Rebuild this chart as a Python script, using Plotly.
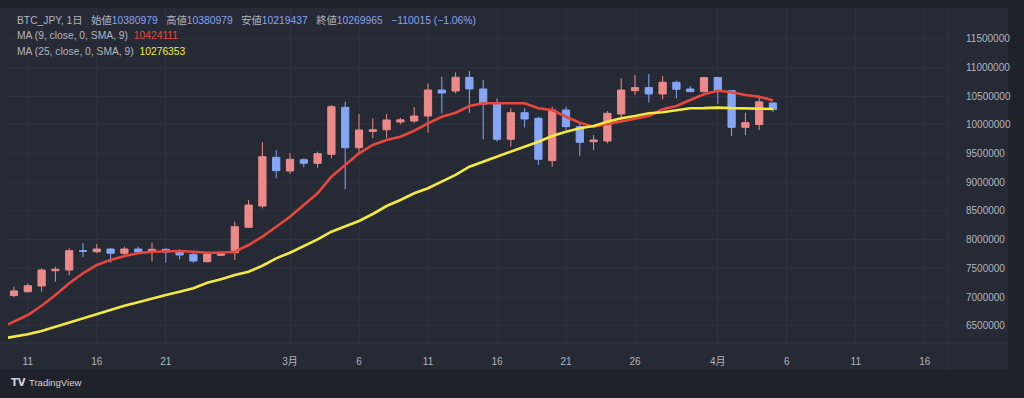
import pandas as pd
import plotly.graph_objects as go

# ---------------- data ----------------
start_date = "2024-02-10"
n_candles = 56
opens = [7025000, 7092000, 7192000, 7458000, 7470000, 7807000, 7789000, 7836000, 7761000, 7836000,
         7789000, 7831000, 7789000, 7744000, 7615000, 7727000, 7772000, 8214000, 8585000, 9434000,
         9195000, 9392000, 9329000, 9486000, 10304000, 9601000, 9884000, 9914000, 10049000, 10066000,
         10153000, 10606000, 10589000, 10827000, 10624000, 10362000, 9747000, 10211000, 10113000, 9375000,
         10258000, 9968000, 9706000, 9718000, 10188000, 10595000, 10648000, 10537000, 10741000, 10624000,
         10578000, 10822000, 10595000, 9956000, 10006000, 10380979]
highs = [7180000, 7239000, 7500000, 7528000, 7848000, 7936000, 7923000, 7848000, 7876000, 7876000,
         7946000, 7848000, 7831000, 7761000, 7779000, 7789000, 8312000, 8690000, 9695000, 9561000,
         9503000, 9416000, 9532000, 10345000, 10403000, 10188000, 10113000, 10188000, 10122000, 10310000,
         10716000, 10838000, 10914000, 10937000, 10780000, 10461000, 10287000, 10287000, 10141000, 10316000,
         10316000, 10055000, 9822000, 10240000, 10810000, 10868000, 10885000, 10850000, 10768000, 10676000,
         10838000, 10838000, 10606000, 10211000, 10511000, 10380979]
lows = [7000000, 7075000, 7092000, 7266000, 7383000, 7692000, 7761000, 7598000, 7692000, 7761000,
        7615000, 7598000, 7657000, 7598000, 7605000, 7720000, 7645000, 8202000, 8545000, 9068000,
        9143000, 9260000, 9254000, 9416000, 8876000, 9503000, 9765000, 9770000, 10006000, 10037000,
        9862000, 10200000, 10549000, 10209000, 9746000, 9706000, 9619000, 9956000, 9300000, 9270000,
        9910000, 9457000, 9561000, 9678000, 10066000, 10519000, 10385000, 10444000, 10462000, 10567000,
        10567000, 10362000, 9805000, 9822000, 9910000, 10219437]
closes = [7105000, 7197000, 7470000, 7483000, 7807000, 7796000, 7836000, 7761000, 7836000, 7784000,
          7831000, 7784000, 7732000, 7627000, 7749000, 7779000, 8225000, 8603000, 9444000, 9200000,
          9399000, 9329000, 9497000, 10315000, 9601000, 9910000, 9913000, 10084000, 10087000, 10153000,
          10606000, 10554000, 10827000, 10624000, 10362000, 9747000, 10211000, 10101000, 9399000, 10258000,
          9968000, 9695000, 9735000, 10200000, 10606000, 10648000, 10537000, 10741000, 10619000, 10578000,
          10822000, 10595000, 9956000, 10037000, 10400000, 10269965]

# moving averages (first point = Feb 9, then one per candle)
ma_start_date = "2024-02-09"
ma9 = [6460000, 6570000, 6686000, 6848000, 7035000, 7239000, 7413000, 7558000, 7645000, 7714000,
       7761000, 7789000, 7801000, 7801000, 7789000, 7772000, 7772000, 7789000, 7906000, 8051000,
       8225000, 8399000, 8603000, 8807000, 9096000, 9300000, 9503000, 9648000, 9735000, 9793000,
       9897000, 10026000, 10141000, 10211000, 10328000, 10375000, 10375000, 10375000, 10375000, 10288000,
       10258000, 10141000, 10037000, 9967000, 10014000, 10072000, 10113000, 10153000, 10270000, 10328000,
       10432000, 10531000, 10594000, 10566000, 10519000, 10490000, 10424111]
ma25 = [6268000, 6308000, 6350000, 6408000, 6483000, 6552000, 6629000, 6704000, 6774000, 6848000,
        6908000, 6977000, 7035000, 7092000, 7152000, 7249000, 7308000, 7383000, 7441000, 7545000,
        7674000, 7772000, 7889000, 8005000, 8138000, 8225000, 8324000, 8446000, 8585000, 8690000,
        8807000, 8894000, 9009000, 9126000, 9270000, 9357000, 9444000, 9531000, 9608000, 9706000,
        9805000, 9880000, 9939000, 9979000, 10054000, 10113000, 10153000, 10200000, 10218000, 10258000,
        10288000, 10290000, 10300000, 10290000, 10285000, 10280000, 10276353]

ytick_vals = [6500000, 7000000, 7500000, 8000000, 8500000, 9000000, 9500000,
              10000000, 10500000, 11000000, 11500000]
xtick_dates = ["2024-02-11", "2024-02-16", "2024-02-21", "2024-03-01", "2024-03-06", "2024-03-11",
               "2024-03-16", "2024-03-21", "2024-03-26", "2024-04-01", "2024-04-06", "2024-04-11",
               "2024-04-16"]
xtick_labels = ["11", "16", "21", "3月", "6", "11", "16", "21", "26", "4月", "6", "11", "16"]

symbol = "BTC_JPY, 1日"
change_text = "−110015 (−1.06%)"
ma9_label = "MA (9, close, 0, SMA, 9)"
ma25_label = "MA (25, close, 0, SMA, 9)"

# ---------------- style ----------------
W, H = 1024, 398
OUTER = "#1f222b"
PANEL = "#262a35"
UP = "#ec8a8a"
DOWN = "#85a6f7"
RED = "#e8473d"
YEL = "#f3e93f"
TXT = "#b2b5be"
GRID = "#2d313c"
FONT = "Liberation Sans, Noto Sans CJK JP, sans-serif"

dates = pd.date_range(start_date, periods=n_candles, freq="D")
ma_dates = pd.date_range(ma_start_date, periods=len(ma9), freq="D")

fig = go.Figure()
fig.add_trace(go.Candlestick(
    x=dates, open=opens, high=highs, low=lows, close=closes,
    increasing=dict(line=dict(color=UP, width=1), fillcolor=UP),
    decreasing=dict(line=dict(color=DOWN, width=1), fillcolor=DOWN),
    whiskerwidth=0, showlegend=False, hoverinfo="skip"))
fig.add_trace(go.Scatter(x=ma_dates, y=ma9, mode="lines",
                         line=dict(color=RED, width=2.6), showlegend=False, hoverinfo="skip"))
fig.add_trace(go.Scatter(x=ma_dates, y=ma25, mode="lines",
                         line=dict(color=YEL, width=2.6), showlegend=False, hoverinfo="skip"))

# plot area geometry (pixels)
L, R, T, B = 8, 948, 8, 343


def px2val(y):
    return 7000000 + (297 - y) * 500000 / 28.7


x0 = pd.Timestamp(start_date) - pd.Timedelta(days=6 / 13.8)
x1 = pd.Timestamp(start_date) + pd.Timedelta(days=(R - 14) / 13.8)

fig.update_layout(
    width=W, height=H,
    margin=dict(l=L, r=W - R, t=T, b=H - B),
    paper_bgcolor=OUTER, plot_bgcolor=PANEL,
    font=dict(family=FONT, size=10, color=TXT),
    boxgap=0.25,
    xaxis=dict(
        range=[x0, x1], rangeslider=dict(visible=False),
        tickvals=xtick_dates, ticktext=xtick_labels,
        showgrid=True, gridcolor=GRID, gridwidth=1, zeroline=False,
        ticks="outside", ticklen=9, tickcolor="rgba(0,0,0,0)",
        tickfont=dict(size=10, color=TXT), showline=False,
    ),
    yaxis=dict(
        side="right", range=[px2val(B), px2val(T)],
        tickvals=ytick_vals, ticktext=[str(v) for v in ytick_vals],
        showgrid=True, gridcolor=GRID, gridwidth=1, zeroline=False,
        ticks="outside", ticklen=15, tickcolor="rgba(0,0,0,0)",
        tickfont=dict(size=10, color=TXT), showline=False,
    ),
)

# panel background and separators
shapes = [
    dict(type="rect", xref="paper", yref="paper", layer="below",
         x0=-L / (R - L), x1=(1008 - L) / (R - L), y0=-(370 - B) / (B - T), y1=1,
         fillcolor=PANEL, line=dict(width=0)),
    dict(type="line", xref="paper", yref="paper", layer="above",
         x0=1, x1=1, y0=-(370 - B) / (B - T), y1=1, line=dict(color="#30343f", width=1)),
    dict(type="line", xref="paper", yref="paper", layer="above",
         x0=-L / (R - L), x1=(1008 - L) / (R - L), y0=0, y1=0, line=dict(color="#30343f", width=1)),
]
fig.update_layout(shapes=shapes)

NB = "\u00a0"
BLUE_TXT = "#87a3f5"


def val(s, c):
    return f'<span style="color:{c}">{s}</span>'


sep = NB * 3
line1 = (f"{symbol}{sep}始値{val(opens[-1], BLUE_TXT)}{sep}高値{val(highs[-1], BLUE_TXT)}"
         f"{sep}安値{val(lows[-1], BLUE_TXT)}{sep}終値{val(closes[-1], BLUE_TXT)}"
         f"{sep}{val(change_text, BLUE_TXT)}")
line2 = f"{ma9_label}{NB}{NB}{val(ma9[-1], RED)}"
line3 = f"{ma25_label}{NB}{NB}{val(ma25[-1], YEL)}"

for i, txt in enumerate([line1, line2, line3]):
    fig.add_annotation(xref="paper", yref="paper", x=(15 - L) / (R - L),
                       y=1 - ((20 + 15.5 * i) - T) / (B - T),
                       text=txt, showarrow=False, xanchor="left", yanchor="middle",
                       font=dict(family=FONT, size=10.3, color=TXT))

# TradingView logo
fig.add_annotation(xref="paper", yref="paper", x=(9 - L) / (R - L), y=-(383 - B) / (B - T),
                   text="<b>TV</b>", showarrow=False, xanchor="left", yanchor="middle",
                   font=dict(family="DejaVu Sans", size=10, color="#d1d4dc"))
fig.add_annotation(xref="paper", yref="paper", x=(27 - L) / (R - L), y=-(383 - B) / (B - T),
                   text="TradingView", showarrow=False, xanchor="left", yanchor="middle",
                   font=dict(family="Liberation Sans", size=9.5, color="#d1d4dc"))

fig.write_html("out.html", config={"displayModeBar": False},
               post_script="document.body.style.margin='0';document.body.style.overflow='hidden';")
